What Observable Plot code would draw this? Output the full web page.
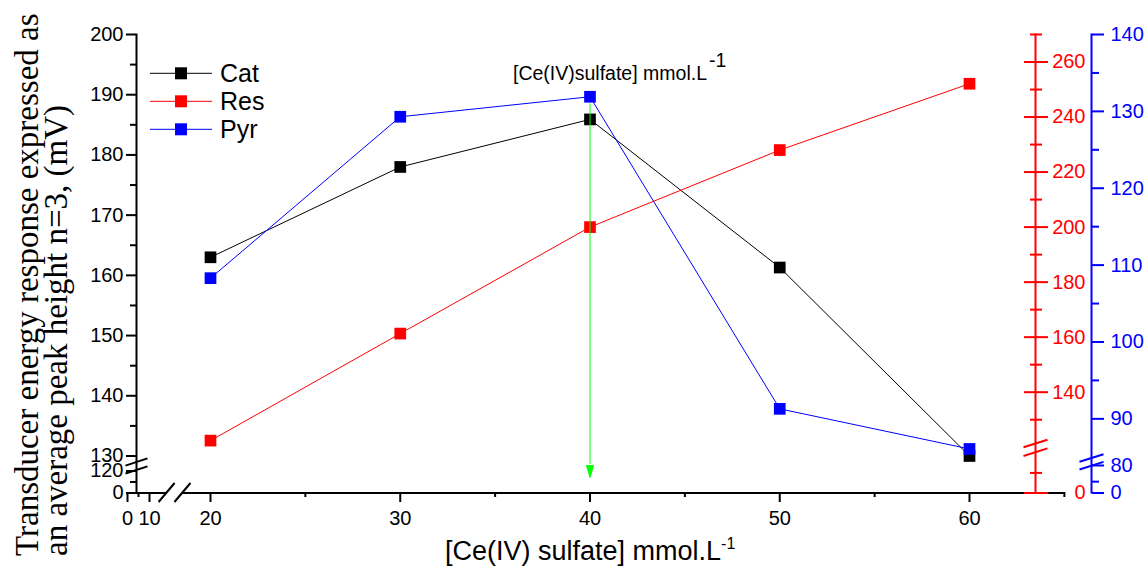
<!DOCTYPE html>
<html><head><meta charset="utf-8">
<script src="https://cdn.jsdelivr.net/npm/d3@7"></script>
<script src="https://cdn.jsdelivr.net/npm/@observablehq/plot@0.6"></script>
<style>body{margin:0;background:#fff;} svg{display:block}</style>
</head><body><div id="chart"></div>
<script>
// ---- data ----
const conc = [20, 30, 40, 50, 60];
const cat = [163.0, 178.0, 185.9, 161.3, 130.0];   // left axis (mV)
const res = [122.4, 161.3, 200.0, 228.0, 252.1];   // red right axis
const pyr = [108.3, 129.3, 131.9, 91.3, 86.0];     // blue right axis
const seriesNames = ["Cat", "Res", "Pyr"];
const seriesColors = ["#000000", "#ff0000", "#0000ff"];

// ---- tick labels ----
const xTicks = [0, 10, 20, 30, 40, 50, 60];
const xMinor = [5, 25, 35, 45, 55, 65];
const leftTicks = [0, 120, 130, 140, 150, 160, 170, 180, 190, 200];
const leftMinor = [60, 135, 145, 155, 165, 175, 185, 195];
const redTicks = [0, 140, 160, 180, 200, 220, 240, 260];
const redMinor = [100, 130, 150, 170, 190, 210, 230, 250, 270];
const blueTicks = [0, 80, 90, 100, 110, 120, 130, 140];
const blueMinor = [40, 95, 105, 115, 125, 135];

const yTitle = ["Transducer energy response expressed as", "an average peak height n=3, (mV)"];
const xTitle = "[Ce(IV) sulfate] mmol.L";
const noteText = "[Ce(IV)sulfate] mmol.L";
const supText = "-1";

// broken-axis mapping of the secondary axes onto the primary (left) scale
const redToLeft = d3.scaleLinear().domain([0, 120, 270]).range([0, 131.46, 200]);
const blueToLeft = d3.scaleLinear().domain([0, 80, 90, 140]).range([0, 123.67, 136.17, 200]);

const rows = [];
conc.forEach((c, i) => {
  rows.push({s: "Cat", x: c, y: cat[i]});
  rows.push({s: "Res", x: c, y: redToLeft(res[i])});
  rows.push({s: "Pyr", x: c, y: blueToLeft(pyr[i])});
});
const bySeries = s => rows.filter(d => d.s === s);

const slashXAxis = {draw(ctx) { ctx.moveTo(-8, 9.5); ctx.lineTo(8, -9.5); }};
const slashY = {draw(ctx) { ctx.moveTo(-11, 3.6); ctx.lineTo(11, -3.6); }};
const slashR = {draw(ctx) { ctx.moveTo(-12, 3.8); ctx.lineTo(12, -3.8); }};
const arrowHead = {draw(ctx) { ctx.moveTo(0, 0); ctx.lineTo(-3.5, -12); ctx.lineTo(3.5, -12); ctx.closePath(); }};

const xBreaks = [12.8, 15.4];
const leftBreaks = [126, 120.7];
const redBreaks = [132.08, 130.63];
const blueBreaks = [128.67, 123.53];
const arrowTip = 84.5;

const W = 1145, H = 566;
const font = "'Liberation Sans', Arial, sans-serif";
const RED = "#ff0000", BLUE = "#0000ff";

const plot = Plot.plot({
  width: W, height: H,
  marginLeft: 136, marginRight: 110, marginTop: 34, marginBottom: 74,
  x: {type: "linear", domain: [0, 10, 20, 65], range: [127, 149, 210, 210 + 45 * 18.975]},
  y: {type: "linear", domain: [0, 120, 130, 200], range: [492.5, 470.5, 455.5, 34]},
  style: {fontFamily: font, fontSize: "20px", color: "#000", background: "#fff", overflow: "visible"},
  marks: [
    // axis lines
    Plot.frame({anchor: "left", stroke: "#000", strokeWidth: 2}),
    Plot.frame({anchor: "right", stroke: RED, strokeWidth: 2}),
    Plot.frame({anchor: "right", stroke: BLUE, strokeWidth: 2, dx: 56}),
    Plot.ruleY([0], {x1: 0, x2: xBreaks[0], stroke: "#000", strokeWidth: 2}),
    Plot.ruleY([0], {x1: xBreaks[1], x2: 65, stroke: "#000", strokeWidth: 2}),
    // x axis
    Plot.axisX(xTicks, {tickSize: 10, tickPadding: 8, strokeWidth: 2, label: null}),
    Plot.axisX(xMinor, {tickSize: 5, strokeWidth: 2, tickFormat: () => "", label: null}),
    // left axis
    Plot.axisY(leftTicks, {anchor: "left", tickSize: 10, tickPadding: 3, strokeWidth: 2, label: null}),
    Plot.axisY(leftMinor, {anchor: "left", tickSize: 6, strokeWidth: 2, tickFormat: () => "", label: null}),
    // red axis
    Plot.axisY(redTicks.map(redToLeft), {anchor: "right", tickSize: 24, dx: -12, strokeWidth: 2, color: RED, tickFormat: () => "", label: null}),
    Plot.axisY(redMinor.map(redToLeft), {anchor: "right", tickSize: 12, dx: -6, strokeWidth: 2, color: RED, tickFormat: () => "", label: null}),
    Plot.axisY(redTicks.map(redToLeft), {anchor: "right", tickSize: 0, tickPadding: 50, textAnchor: "end", color: RED, tickFormat: d => Math.round(redToLeft.invert(d)), label: null}),
    // blue axis
    Plot.axisY(blueTicks.map(blueToLeft), {anchor: "right", tickSize: 12, tickPadding: 7, dx: 56, strokeWidth: 2, color: BLUE, tickFormat: d => Math.round(blueToLeft.invert(d)), label: null}),
    Plot.axisY(blueMinor.map(blueToLeft), {anchor: "right", tickSize: 7, dx: 56, strokeWidth: 2, color: BLUE, tickFormat: () => "", label: null}),
    // axis breaks
    Plot.dot(xBreaks, {x: d => d, frameAnchor: "bottom", symbol: slashXAxis, stroke: "#000", strokeWidth: 2, fill: "none"}),
    Plot.dot(leftBreaks, {y: d => d, frameAnchor: "left", symbol: slashY, stroke: "#000", strokeWidth: 2, fill: "none"}),
    Plot.dot(redBreaks, {y: d => d, frameAnchor: "right", symbol: slashR, stroke: RED, strokeWidth: 2, fill: "none"}),
    Plot.dot(blueBreaks, {y: d => d, frameAnchor: "right", dx: 56, symbol: slashR, stroke: BLUE, strokeWidth: 2, fill: "none"}),
    // series
    Plot.line(bySeries("Cat"), {x: "x", y: "y", stroke: seriesColors[0], strokeWidth: 1}),
    Plot.dot(bySeries("Cat"), {x: "x", y: "y", symbol: "square", r: 6.6, fill: seriesColors[0]}),
    Plot.line(bySeries("Res"), {x: "x", y: "y", stroke: seriesColors[1], strokeWidth: 1}),
    Plot.dot(bySeries("Res"), {x: "x", y: "y", symbol: "square", r: 6.6, fill: seriesColors[1]}),
    Plot.line(bySeries("Pyr"), {x: "x", y: "y", stroke: seriesColors[2], strokeWidth: 1}),
    Plot.dot(bySeries("Pyr"), {x: "x", y: "y", symbol: "square", r: 6.6, fill: seriesColors[2]}),
    // green arrow at the optimum
    Plot.ruleX([conc[2]], {y1: blueToLeft(pyr[2]) - 1.2, y2: arrowTip + 40, stroke: "#00ff00", strokeWidth: 1}),
    Plot.dot([conc[2]], {x: d => d, y: () => arrowTip, symbol: arrowHead, fill: "#00ff00", stroke: "#00ff00", strokeWidth: 1})
  ]
});

const svg = d3.select(plot);
// y title
yTitle.forEach((t, i) => {
  svg.append("text")
    .attr("transform", `translate(${38 + i * 29},556) rotate(-90)`)
    .attr("text-anchor", "start")
    .attr("font-family", "'Liberation Serif', 'Times New Roman', serif")
    .attr("font-size", 33)
    .attr("fill", "#000")
    .text(t);
});
// x title
const xt = svg.append("text").attr("x", 445).attr("y", 560).attr("text-anchor", "start").attr("font-size", 27).attr("fill", "#000");
xt.append("tspan").text(xTitle);
xt.append("tspan").attr("dy", -11).attr("font-size", 16).text(supText);
// annotation
const nt = svg.append("text").attr("x", 513).attr("y", 80).attr("text-anchor", "start").attr("font-size", 19.5).attr("fill", "#000");
nt.append("tspan").text(noteText);
nt.append("tspan").attr("dx", 2).attr("dy", -13).text(supText);
// legend
seriesNames.forEach((n, i) => {
  const y = 73.3 + i * 28;
  const g = svg.append("g");
  g.append("line").attr("x1", 150).attr("x2", 212).attr("y1", y).attr("y2", y).attr("stroke", seriesColors[i]).attr("stroke-width", 1);
  g.append("rect").attr("x", 175).attr("y", y - 6).attr("width", 12).attr("height", 12).attr("fill", seriesColors[i]);
  g.append("text").attr("x", 220).attr("y", y).attr("dy", "0.36em").attr("text-anchor", "start").attr("font-size", 25).attr("fill", "#000").text(n);
});

document.getElementById("chart").appendChild(plot);
</script>
</body></html>
